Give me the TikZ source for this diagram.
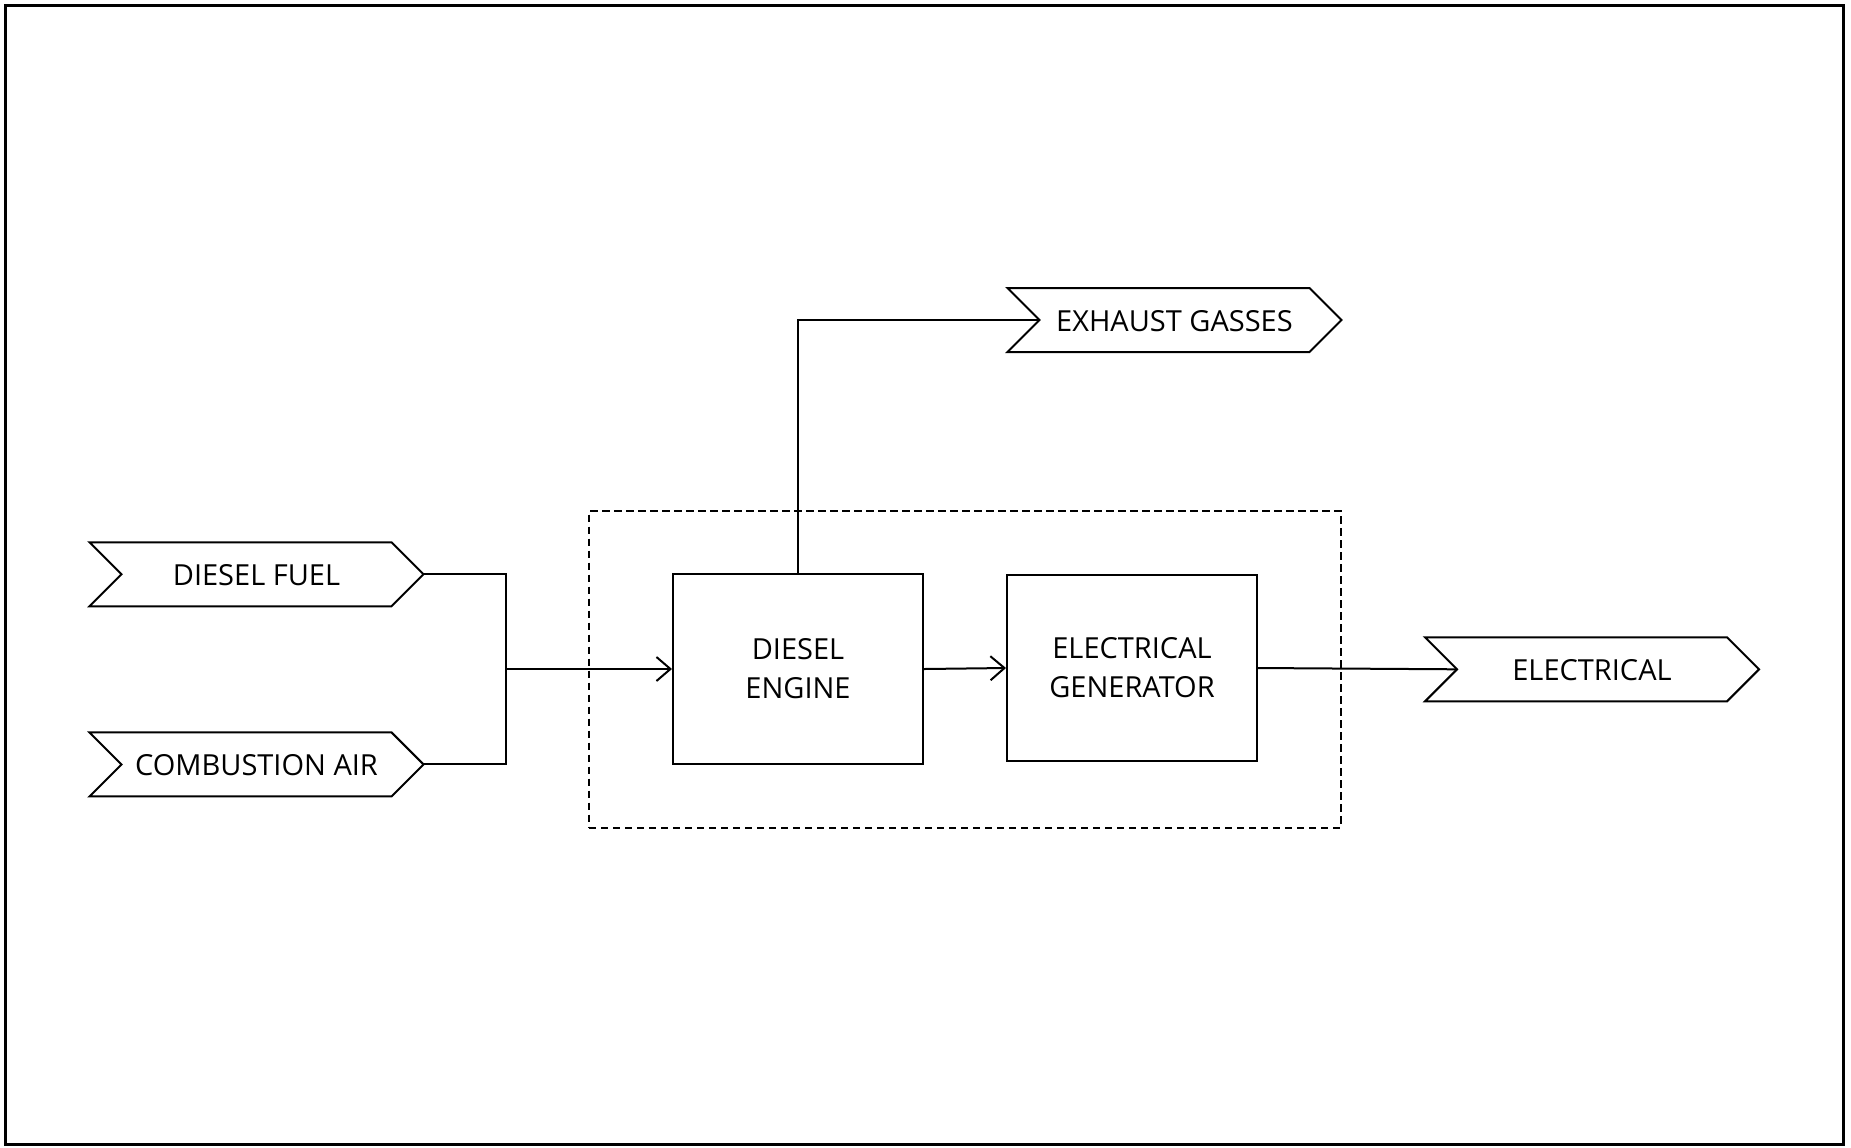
\documentclass[tikz,border=0pt]{standalone}
\usepackage{fontspec}
\setmainfont{Open Sans}
\usetikzlibrary{arrows.meta}
\begin{document}
\begin{tikzpicture}[x=0.5pt,y=-0.5pt,
  line width=1pt,
  lbl/.style={font=\fontsize{14.5}{19.5}\selectfont, align=center},
  chev/.style={lbl, minimum width=134pt, minimum height=31pt, inner sep=0pt,
    execute at begin node={\rule{0pt}{11.3pt}}},
  block/.style={lbl, draw, minimum width=125pt, inner sep=0pt,
    execute at begin node={\rule{0pt}{12.7pt}}},
  flow/.style={-{Straight Barb[length=7pt,width=12pt]}},
  frame/.style={draw, dash pattern=on 3.7pt off 2.3pt, inner sep=0pt}
]
\useasboundingbox (0,0) rectangle (1851,1147);
\draw[line width=1.5pt] (5.5,5.5) rectangle (1843.5,1144.5);

% process boundary
\node[frame, minimum width=376pt, minimum height=158.25pt] (unit) at (965,669.25) {};

% inputs and outputs (chevron tags)
\node[chev] (fuel) at (256.5,574.3) {DIESEL FUEL};
\node[chev] (air) at (256.5,764.4) {COMBUSTION AIR};
\node[chev] (exhaust) at (1174.5,320) {EXHAUST GASSES};
\node[chev] (elec) at (1592,669.3) {ELECTRICAL};
\foreach \n in {fuel,air,exhaust,elec}
  \draw ([xshift=-16pt]\n.north west) -- (\n.north east) -- ([xshift=16pt]\n.east)
        -- (\n.south east) -- ([xshift=-16pt]\n.south west) -- (\n.west) -- cycle;

% equipment
\node[block, minimum height=95pt] (engine) at (798,669) {DIESEL\\ENGINE};
\node[block, minimum height=93pt] (gen) at (1132,668) {ELECTRICAL\\GENERATOR};

% flows
\coordinate (join) at (505.5,669);
\draw ([xshift=16pt]fuel.east) -| (join);
\draw ([xshift=16pt]air.east) -| (join);
\draw[flow] (join) -- (engine.west);
\draw[flow] (engine.east) -- (gen.west);
\draw (gen.east) -- (elec.west);
\draw (engine.north) |- (exhaust.west);
\end{tikzpicture}
\end{document}
